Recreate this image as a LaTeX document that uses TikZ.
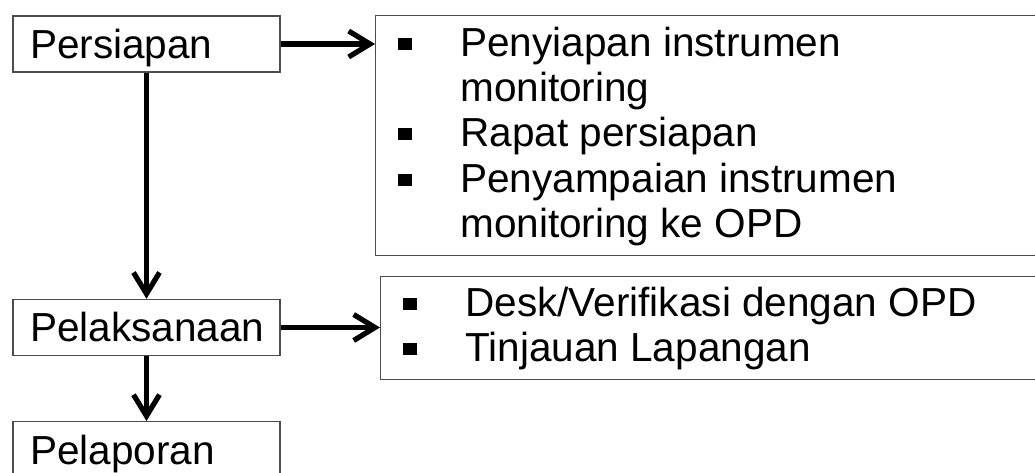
\documentclass[tikz,border=0pt]{standalone}
\usepackage{fontspec}
\setmainfont{Liberation Sans}
\usetikzlibrary{arrows.meta}
\definecolor{garis}{rgb}{0.30,0.30,0.30}
\newcommand{\hurufbesar}{\fontsize{30.4}{33.75}\selectfont}
\tikzset{
  tahap/.style={draw=garis, line width=1pt, font=\hurufbesar, align=left,
    text width=174.75pt, inner xsep=12.75pt, inner ysep=0pt,
    minimum height=42pt, text height=21.75pt, text depth=0pt},
  kotak/.style={draw=garis, line width=1pt, inner sep=0pt, anchor=north west},
  butir/.style={font=\hurufbesar, anchor=base west, inner sep=0pt},
  bulet/.style={fill=black, minimum width=10.5pt, minimum height=9pt, inner sep=0pt},
  alur/.style={line width=3.9pt, -{Straight Barb[length=16pt, width=19.5pt]}}
}

\begin{document}
\begin{tikzpicture}[x=0.75pt, y=-0.75pt]
\useasboundingbox (0,0) rectangle (1035,473);
% ---------- tahapan (kiri) ----------
\node[tahap] (persiapan) at (146.5,44) {Persiapan};
\node[tahap] (pelaksanaan) at (146.5,327.5) {Pelaksanaan};
\node[tahap, anchor=north, minimum height=43pt] (pelaporan) at (146.5,421) {Pelaporan};
\draw[alur] (persiapan) -- (pelaksanaan);
\draw[alur] (pelaksanaan) -- (pelaporan);
% ---------- kegiatan persiapan ----------
\node[kotak, minimum width=502.5pt, minimum height=180pt] (kegiatanA) at (375,15) {};
\node[bulet] (bulA1) at (405,44) {};
\node[butir] (itemA1) at (460,57) {Penyiapan instrumen};
\node[butir] (itemA2) at (460,102) {monitoring};
\node[bulet] (bulA2) at (405,134) {};
\node[butir] (itemA3) at (460,147) {Rapat persiapan};
\node[bulet] (bulA3) at (405,180) {};
\node[butir] (itemA4) at (460,193) {Penyampaian instrumen};
\node[butir] (itemA5) at (460,238) {monitoring ke OPD};
\draw[alur] (persiapan.east) -- (persiapan.east -| kegiatanA.west);
% ---------- kegiatan pelaksanaan ----------
\node[kotak, minimum width=498.75pt, minimum height=77.25pt] (kegiatanB) at (380,276) {};
\node[bulet] (bulB1) at (410,304) {};
\node[butir] (itemB1) at (465,317) {Desk/Verifikasi dengan OPD};
\node[bulet] (bulB2) at (410,349) {};
\node[butir] (itemB2) at (465,362) {Tinjauan Lapangan};
\draw[alur] (pelaksanaan.east) -- (pelaksanaan.east -| kegiatanB.west);
\end{tikzpicture}
\end{document}
